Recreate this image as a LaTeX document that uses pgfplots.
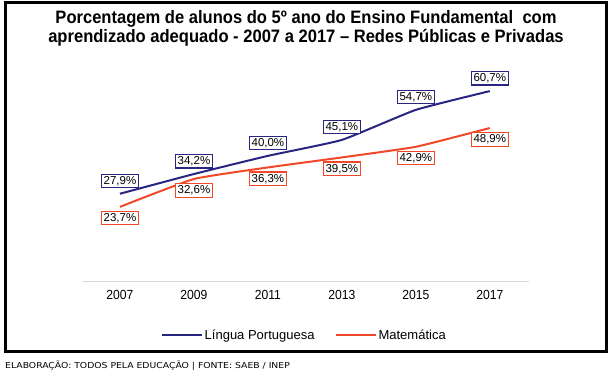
\documentclass[border=0pt]{standalone}
\usepackage{pgfplots}
\pgfplotsset{compat=1.18}
\usepackage{fontspec}
\setmainfont{Liberation Sans}
\newfontfamily\titlefont[FakeStretch=0.92]{Liberation Sans}
\newfontfamily\narrowfont[FakeStretch=0.92]{Liberation Sans}
\newfontfamily\footfont[FakeStretch=1.13]{DejaVu Sans}
\definecolor{lpblue}{RGB}{40,38,128}
\definecolor{mtred}{RGB}{240,72,40}
\definecolor{axgray}{RGB}{217,217,217}
\begin{document}
\begin{tikzpicture}
\path (0,0) rectangle (614bp,378bp);
\draw[line width=2.8bp,black] (5.3bp,26.5bp) rectangle (606.5bp,375.5bp);
\node[align=center,font={\titlefont\bfseries\fontsize{18bp}{19bp}\selectfont}] at (306bp,349.5bp)
 {Porcentagem de alunos do 5º ano do Ensino Fundamental\ \ com\\aprendizado adequado - 2007 a 2017 – Redes Públicas e Privadas};
\node[anchor=west,inner sep=0pt,font={\footfont\fontsize{8.2bp}{9bp}\selectfont}] at (5bp,12bp)
 {ELABORAÇÃO: TODOS PELA EDUCAÇÃO | FONTE: SAEB / INEP};
\begin{axis}[
  at={(83bp,97bp)}, anchor=south west,
  scale only axis, width=446bp, height=219bp,
  xmin=-0.5, xmax=5.53, ymin=0, ymax=70,
  axis x line*=bottom, axis y line=none,
  x axis line style={axgray,line width=0.8bp,-},
  xtick={0,1,2,3,4,5},
  xticklabels={2007,2009,2011,2013,2015,2017},
  major tick length=0pt,
  xticklabel style={font={\narrowfont\fontsize{13.2bp}{15bp}\selectfont},yshift=-5.5bp},
  clip=false,
  nodes near coords={\pgfmathprintnumber[fixed,fixed zerofill,precision=1,use comma,assume math mode=true]{\pgfplotspointmeta}\%},
  every node near coord/.append style={font={\fontsize{11.5bp}{13bp}\selectfont},fill=white,text=black,inner sep=2bp,line width=1.1bp},
  legend columns=2,
  legend style={at={(0.496,-0.247)},anchor=center,draw=none,fill=none,
     font={\fontsize{13bp}{15bp}\selectfont},
     /tikz/every even column/.append style={column sep=18bp}},
  legend image code/.code={\draw[#1] (0bp,0bp) -- (40bp,0bp);},
  legend cell align=left,
]
\addplot[lpblue,line width=2bp,smooth,tension=0.25,
  every node near coord/.append style={draw=lpblue,anchor=south,yshift=5.5bp}]
  coordinates {(0,27.9) (1,34.2) (2,40.0) (3,45.1) (4,54.7) (5,60.7)};
\addlegendentry{Língua Portuguesa}
\addplot[mtred,line width=2bp,smooth,tension=0.25,
  every node near coord/.append style={draw=mtred,anchor=north,yshift=-4bp}]
  coordinates {(0,23.7) (1,32.6) (2,36.3) (3,39.5) (4,42.9) (5,48.9)};
\addlegendentry{Matemática}
\end{axis}
\end{tikzpicture}
\end{document}
